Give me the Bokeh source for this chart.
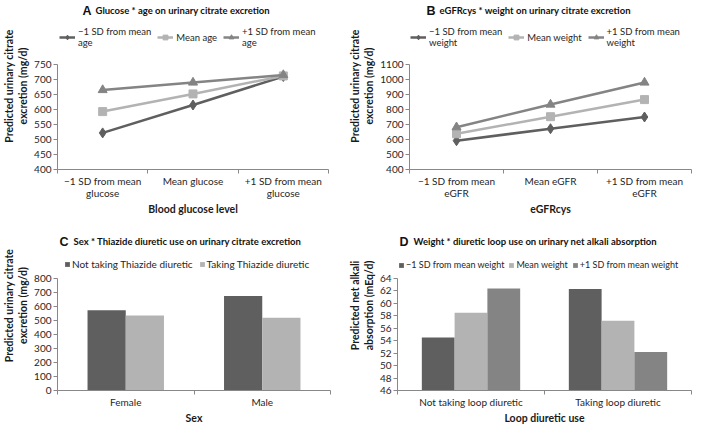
from bokeh.plotting import figure
from bokeh.models import (Range1d, Legend, LegendItem, Label, ColumnDataSource, FixedTicker)
from bokeh.layouts import column, row
from bokeh.transform import dodge
from bokeh.embed import file_html
from bokeh.resources import INLINE

# ---------------- data ----------------
a_categories = ["−1 SD from mean\nglucose", "Mean glucose", "+1 SD from mean\nglucose"]
a_series = ["−1 SD from mean\nage", "Mean age", "+1 SD from mean\nage"]
a_low_age = [522, 615, 710]
a_mean_age = [593, 652, 712]
a_high_age = [665, 690, 715]
a_yticks = [400, 450, 500, 550, 600, 650, 700, 750]

b_categories = ["−1 SD from mean\neGFR", "Mean eGFR", "+1 SD from mean\neGFR"]
b_series = ["−1 SD from mean\nweight", "Mean weight", "+1 SD from mean\nweight"]
b_low_weight = [592, 672, 750]
b_mean_weight = [638, 752, 866]
b_high_weight = [682, 833, 980]
b_yticks = [400, 500, 600, 700, 800, 900, 1000, 1100]

c_categories = ["Female", "Male"]
c_series = ["Not taking Thiazide diuretic", "Taking Thiazide diuretic"]
c_not_taking = [573, 675]
c_taking = [535, 520]
c_yticks = [0, 100, 200, 300, 400, 500, 600, 700, 800]

d_categories = ["Not taking loop diuretic", "Taking loop diuretic"]
d_series = ["−1 SD from mean weight", "Mean weight", "+1 SD from mean weight"]
d_low_weight = [54.5, 62.3]
d_mean_weight = [58.5, 57.2]
d_high_weight = [62.4, 52.2]
d_yticks = [46, 48, 50, 52, 54, 56, 58, 60, 62, 64]

# ---------------- style ----------------
FONT = "Lato"
DARK = "#5f5f5f"
LIGHT = "#b3b3b3"
MID = "#848484"
AXIS_C = "#888888"
TEXT_C = "#262626"

# geometry in page px: the frame reaches up to `bt`; the data part starts at `dt`
GA = dict(ox=0, oy=0, w=346, h=218, bl=49, br=18, bt=2, dt=64, bb=49)
GB = dict(ox=346, oy=0, w=347, h=218, bl=61, br=2, bt=2, dt=64, bb=49)
GC = dict(ox=0, oy=218, w=346, h=210, bl=49, br=16, bt=2, dt=60, bb=38)
GD = dict(ox=346, oy=218, w=347, h=210, bl=51, br=2, bt=2, dt=60, bb=38)


def centers_of(cats):
    return [i + 0.5 for i in range(len(cats))]


def make_fig(geom, cats, y0, y1, yticks, xlabel, ylabel):
    n = len(cats)
    centers = centers_of(cats)
    data_px = geom["h"] - geom["dt"] - geom["bb"]
    pad_px = geom["dt"] - geom["bt"]
    y_top = y1 + (y1 - y0) * pad_px / data_px   # room above the data for title + legend
    p = figure(x_range=Range1d(0, n), y_range=Range1d(y0, y_top),
               width=geom["w"], height=geom["h"],
               output_backend="svg", toolbar_location=None,
               min_border_left=geom["bl"], min_border_right=geom["br"],
               min_border_top=geom["bt"], min_border_bottom=geom["bb"])
    p.outline_line_color = None
    p.grid.grid_line_color = None
    p.background_fill_color = "white"
    p.border_fill_color = "white"
    xa = p.xaxis[0]
    ya = p.yaxis[0]
    for ax in (xa, ya):
        ax.major_label_text_font = FONT
        ax.major_label_text_font_size = "10px"
        ax.major_label_text_color = TEXT_C
        ax.axis_label_text_font = FONT
        ax.axis_label_text_font_style = "bold"
        ax.axis_label_text_font_size = "10.5px"
        ax.axis_label_text_color = "#1a1a1a"
        ax.axis_line_color = AXIS_C
    # category labels at centres, tick marks at category boundaries
    xa.ticker = FixedTicker(ticks=centers, minor_ticks=list(range(n + 1)))
    xa.major_label_overrides = {c: lab for c, lab in zip(centers, cats)}
    xa.major_tick_line_color = None
    xa.major_tick_out = 0
    xa.major_tick_in = 0
    xa.minor_tick_line_color = AXIS_C
    xa.minor_tick_out = 4
    xa.minor_tick_in = 0
    xa.major_label_standoff = 1
    xa.axis_label_standoff = 1
    xa.major_label_text_line_height = 1.0
    xa.axis_label = xlabel
    ya.ticker = FixedTicker(ticks=yticks)
    ya.bounds = (y0, y1)
    ya.major_tick_line_color = AXIS_C
    ya.major_tick_out = 4
    ya.major_tick_in = 0
    ya.minor_tick_line_color = None
    ya.major_label_standoff = 2
    ya.axis_label_standoff = 2
    ya.axis_label = ylabel
    ya.axis_label_text_line_height = 1.15
    return p


def to_screen(geom, wx, wy):
    fl = geom["ox"] + geom["bl"]
    fb = geom["oy"] + geom["h"] - geom["bb"]
    return (wx - 8) - fl, fb - wy


def add_title(p, geom, letter, text, wx_letter, wx_text, wy):
    sx, sy = to_screen(geom, wx_letter, wy)
    p.add_layout(Label(x=sx, y=sy, x_units="screen", y_units="screen", text=letter,
                       text_font="Liberation Sans", text_font_style="bold",
                       text_font_size="12.5px", text_baseline="middle", text_color="#111111"))
    sx2, _ = to_screen(geom, wx_text, wy)
    p.add_layout(Label(x=sx2, y=sy, x_units="screen", y_units="screen", text=text,
                       text_font=FONT, text_font_style="bold",
                       text_font_size="9.5px", text_baseline="middle", text_color="#111111"))


def add_legend(p, geom, items, wx, wy_bottom, glyph_w, glyph_h, standoff, spacing,
               font_size="10px"):
    sx, sy = to_screen(geom, wx, wy_bottom)
    lg = Legend(items=items, orientation="horizontal", location=(sx, sy),
                border_line_color=None, background_fill_alpha=0, padding=0, margin=0,
                spacing=spacing, label_standoff=standoff, glyph_width=glyph_w,
                glyph_height=glyph_h, label_text_font=FONT, label_text_font_size=font_size,
                label_text_color=TEXT_C, label_text_line_height=1.1)
    p.add_layout(lg, "center")


YLAB_CIT = "Predicted urinary citrate\nexcretion (mg/d)"


def line_panel(geom, cats, series, values, y0, y1, yticks, xlabel, letter, title,
               tx_letter, tx_text, leg_wx):
    p = make_fig(geom, cats, y0, y1, yticks, xlabel, YLAB_CIT)
    xs = centers_of(cats)
    colors = [DARK, LIGHT, MID]
    markers = ["diamond", "square", "triangle"]
    sizes = [10, 8, 9]
    items = []
    for name, vals, col, mk, sz in zip(series, values, colors, markers, sizes):
        src = ColumnDataSource(dict(x=xs, y=vals))
        ln = p.line("x", "y", source=src, line_color=col, line_width=2.5)
        sc = p.scatter("x", "y", source=src, marker=mk, size=sz, fill_color=col,
                       line_color=col)
        items.append(LegendItem(label=name, renderers=[ln, sc]))
    add_title(p, geom, letter, title, tx_letter, tx_text, 10)
    add_legend(p, geom, items, leg_wx, 48, 16, 12, 3, 6, "9.5px")
    return p


pa = line_panel(GA, a_categories, a_series, [a_low_age, a_mean_age, a_high_age],
                400, 750, a_yticks, "Blood glucose level", "A",
                "Glucose * age on urinary citrate excretion", 82, 95, 59)
pb = line_panel(GB, b_categories, b_series, [b_low_weight, b_mean_weight, b_high_weight],
                400, 1100, b_yticks, "eGFRcys", "B",
                "eGFRcys * weight on urinary citrate excretion", 432, 445, 416)

# ---- panel C ----
pc = make_fig(GC, c_categories, 0, 800, c_yticks, "Sex", YLAB_CIT)
src_c = ColumnDataSource(dict(x=centers_of(c_categories), a=c_not_taking, b=c_taking))
rc1 = pc.vbar(x=dodge("x", -0.14), top="a", bottom=0, width=0.28,
              source=src_c, fill_color=DARK, line_color=None)
rc2 = pc.vbar(x=dodge("x", 0.14), top="b", bottom=0, width=0.28,
              source=src_c, fill_color=LIGHT, line_color=None)
add_title(pc, GC, "C", "Sex * Thiazide diuretic use on urinary citrate excretion", 59, 73, 241)
add_legend(pc, GC, [LegendItem(label=c_series[0], renderers=[rc1]),
                    LegendItem(label=c_series[1], renderers=[rc2])],
           64, 270, 6, 6, 2, 6)

# ---- panel D ----
pd_ = make_fig(GD, d_categories, 46, 64, d_yticks, "Loop diuretic use",
               "Predicted net alkali\nabsorption (mEq/d)")
src_d = ColumnDataSource(dict(x=centers_of(d_categories), a=d_low_weight, b=d_mean_weight,
                              c=d_high_weight))
rd = []
for col_name, off, colr in (("a", -0.223, DARK), ("b", 0.0, LIGHT), ("c", 0.223, MID)):
    rd.append(pd_.vbar(x=dodge("x", off), top=col_name, bottom=46,
                       width=0.223, source=src_d, fill_color=colr, line_color=None))
add_title(pd_, GD, "D", "Weight * diuretic loop use on urinary net alkali absorption",
          407, 421, 241)
add_legend(pd_, GD, [LegendItem(label=s, renderers=[r]) for s, r in zip(d_series, rd)],
           406, 270, 6, 6, 2, 4, "9px")

layout = column(row(pa, pb), row(pc, pd_))
open("out.html", "w").write(file_html(layout, INLINE))
